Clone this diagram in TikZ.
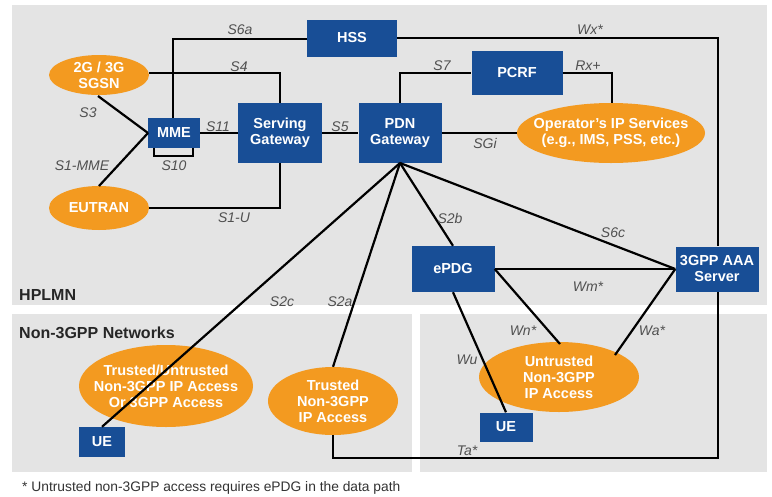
\documentclass[tikz,border=0pt]{standalone}
\usepackage{fontspec}
\setmainfont{Liberation Sans}
\usetikzlibrary{shapes.geometric}
\definecolor{boxblue}{RGB}{24,78,150}
\definecolor{ovalorange}{RGB}{243,154,32}
\definecolor{panelgray}{RGB}{228,228,228}
\definecolor{labelgray}{RGB}{80,80,80}
\tikzset{
  box/.style={draw=none, fill=boxblue, text=white, font=\fontsize{14.5}{16}\selectfont\bfseries, align=center, inner sep=0pt},
  oval/.style={ellipse, fill=ovalorange, inner sep=0pt},
  ovaltext/.style={text=white, font=\fontsize{14.5}{16}\selectfont\bfseries, align=center, inner sep=0pt},
  link/.style={draw=black, line width=2.2pt},
  lbl/.style={text=labelgray, font=\fontsize{14}{15}\selectfont\itshape, inner sep=0pt},
  title/.style={font=\fontsize{16}{18}\selectfont\bfseries, text=black!85, anchor=west, inner sep=0pt}
}
\begin{document}
\begin{tikzpicture}[x=1pt,y=-1pt]
\useasboundingbox (0,0) rectangle (772,496);
\fill[white] (0,0) rectangle (772,496);
% panels
\fill[panelgray] (12,5) rectangle (767,305);
\fill[panelgray] (12,314) rectangle (412,472);
\fill[panelgray] (420,314) rectangle (767,472);
\node[title] (hplmn) at (19,295) {HPLMN};
\node[title] (non3gpp) at (19,333) {Non-3GPP Networks};
\node[anchor=west, inner sep=0pt, font=\fontsize{13.8}{15}\selectfont, text=black!80] (note) at (22,488) {* Untrusted non-3GPP access requires ePDG in the data path};

% nodes
\node[box, minimum width=90pt, minimum height=37pt] (hss) at (352,38) {HSS};
\node[oval, minimum width=100pt, minimum height=40pt] (sgsn) at (99,75) {};
\node[ovaltext] (sgsnt) at (sgsn.center) {2G / 3G\\SGSN};
\node[box, minimum width=52pt, minimum height=30pt] (mme) at (174,133) {MME};
\node[box, minimum width=84pt, minimum height=60pt] (sgw) at (280,133) {Serving\\Gateway};
\node[box, minimum width=83pt, minimum height=60pt] (pgw) at (400,133) {PDN\\Gateway};
\node[oval, minimum width=100pt, minimum height=44pt] (eutran) at (99,208) {};
\node[ovaltext] (eutrant) at (eutran.center) {EUTRAN};
\node[box, minimum width=91pt, minimum height=44pt] (pcrf) at (517,73) {PCRF};
\node[oval, minimum width=188pt, minimum height=60pt] (ops) at (611,133) {};
\node[ovaltext] (opst) at (ops.center) {Operator's IP Services\\(e.g., IMS, PSS, etc.)};
\node[box, minimum width=83pt, minimum height=45pt] (aaa) at (717,269) {3GPP AAA\\Server};
\node[box, minimum width=83pt, minimum height=46pt] (epdg) at (453,269) {ePDG};

\coordinate (s6acorner) at (173,39);
\coordinate (s4corner) at (280,73);
\coordinate (s1ucorner) at (280,208);
\coordinate (wxcorner) at (718,38);
\coordinate (s7corner) at (400,73);
\coordinate (rxcorner) at (612,73);
\coordinate (pgwfoot) at (400,163);
\coordinate (tacornerA) at (333,458);
\coordinate (tacornerB) at (718,458);
\coordinate (mmein) at (148,133);
\coordinate (sgsnfoot) at (98,96);
\coordinate (eutrantop) at (99,186);
\coordinate (untrtop) at (560,344);
\coordinate (untrright) at (615,355);

\draw[link] (mme.north -| s6acorner) -- (s6acorner) -- (hss.west |- s6acorner);
\draw[link] (sgsn.east |- s4corner) -- (s4corner) -- (sgw.north);
\draw[link] (sgsnfoot) -- (mmein);
\draw[link] (eutrantop) -- (mmein);
\draw[link] (mme.east) -- (sgw.west);
\draw[link] (sgw.east) -- (pgw.west);
\draw[link] (eutran.east) -- (s1ucorner) -- (sgw.south);
\draw[link] (hss.east |- wxcorner) -- (wxcorner) -- (aaa.north -| wxcorner);
\draw[link] (pgw.north) -- (s7corner) -- (pcrf.west |- s7corner);
\draw[link] (pcrf.east |- rxcorner) -- (rxcorner) -- (ops.north -| rxcorner);
\draw[link] (pgw.east) -- (ops.west);
\draw[line width=1.4pt] (154,148) -- (154,156) -- (193,156) -- (193,148);

\node[oval, minimum width=174pt, minimum height=82pt] (tru) at (166,386) {};
\node[ovaltext] (trut) at (tru.center) {Trusted/Untrusted\\Non-3GPP IP Access\\Or 3GPP Access};
\node[oval, minimum width=130pt, minimum height=68pt] (trusted) at (333,401) {};
\node[ovaltext] (trustedt) at (trusted.center) {Trusted\\Non-3GPP\\IP Access};
\node[oval, minimum width=160pt, minimum height=70pt] (untr) at (559,377) {};
\node[ovaltext] (untrt) at (untr.center) {Untrusted\\Non-3GPP\\IP Access};
\node[box, minimum width=46pt, minimum height=30pt] (uel) at (102,442) {UE};
\node[box, minimum width=53pt, minimum height=29pt] (uer) at (506,427) {UE};

\draw[link] (pgwfoot) -- (epdg.north);
\draw[link] (pgwfoot) -- (aaa.west);
\draw[link] (pgwfoot) -- (trusted.north);
\draw[link] (pgwfoot) -- (uel.north);
\draw[link] (epdg.east) -- (aaa.west);
\draw[link] (epdg.east) -- (untrtop);
\draw[link] (aaa.west) -- (untrright);
\draw[link] (epdg.south) -- (uer.north);
\draw[link] (trusted.south) -- (tacornerA) -- (tacornerB) -- (aaa.south -| tacornerB);

% labels
\node[lbl] (l6a) at (240,30) {S6a};
\node[lbl] (l4) at (239,67) {S4};
\node[lbl] (l3) at (88,113) {S3};
\node[lbl] (l1mme) at (82,166) {S1-MME};
\node[lbl] (l10) at (174,166) {S10};
\node[lbl] (l11) at (218,127) {S11};
\node[lbl] (l5) at (340,127) {S5};
\node[lbl] (l1u) at (234,218) {S1-U};
\node[lbl] (lwx) at (590,30) {Wx*};
\node[lbl] (l7) at (442,66) {S7};
\node[lbl] (lrx) at (588,66) {Rx+};
\node[lbl] (lsgi) at (485,143) {SGi};
\node[lbl] (l2b) at (450,218) {S2b};
\node[lbl] (l6c) at (613,233) {S6c};
\node[lbl] (l2c) at (282,302) {S2c};
\node[lbl] (l2a) at (340,302) {S2a};
\node[lbl] (lwm) at (588,287) {Wm*};
\node[lbl] (lwn) at (523,331) {Wn*};
\node[lbl] (lwa) at (652,331) {Wa*};
\node[lbl] (lwu) at (467,360) {Wu};
\node[lbl] (lta) at (467,451) {Ta*};
\end{tikzpicture}
\end{document}
